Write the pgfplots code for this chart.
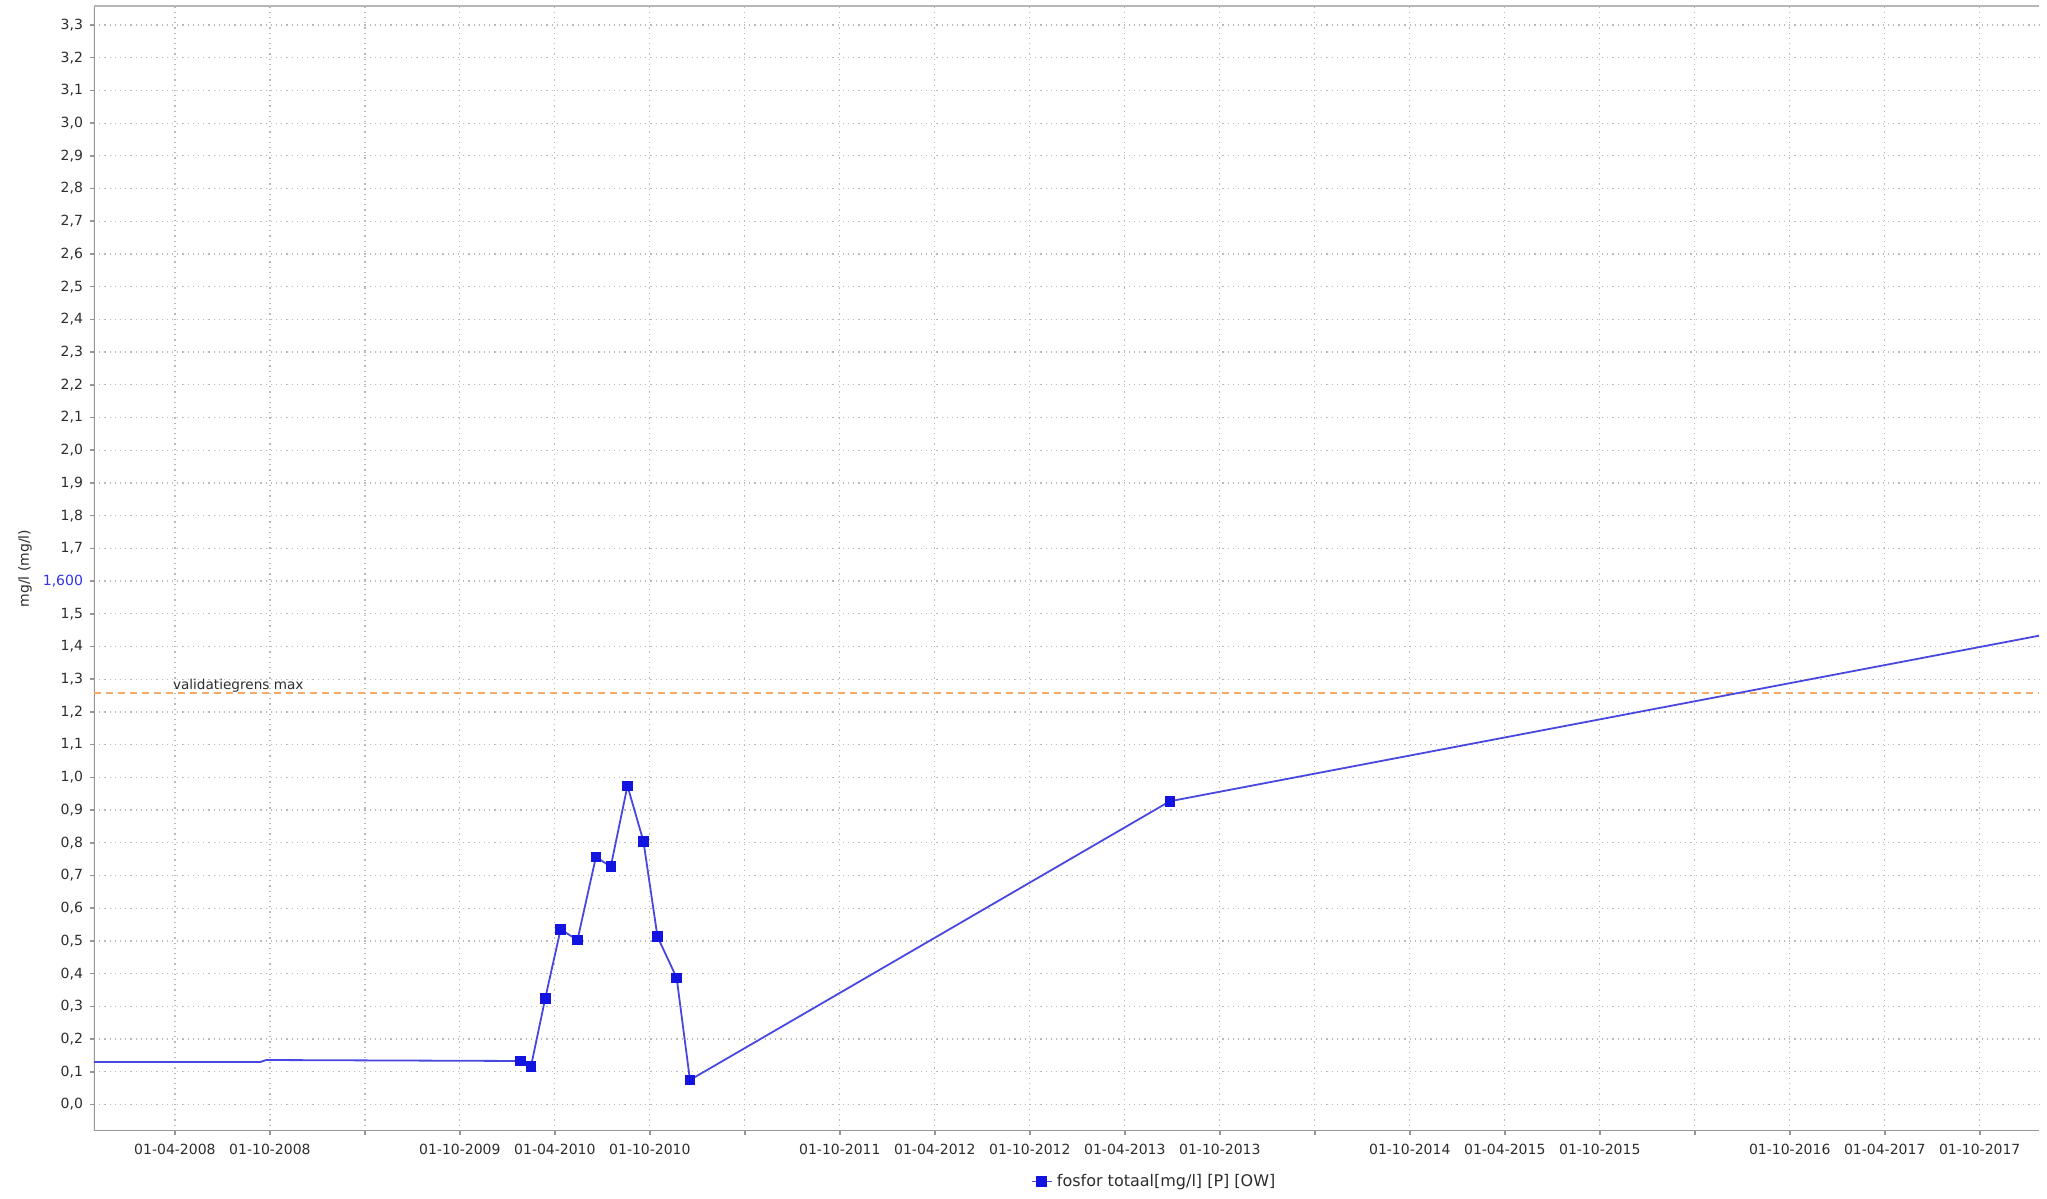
\documentclass[border=0pt]{standalone}
\usepackage{pgfplots}
\pgfplotsset{compat=1.18}
\usepackage{fontspec}
\setmainfont{DejaVu Sans}
\definecolor{serline}{RGB}{72,72,225}
\definecolor{sermark}{RGB}{20,20,225}
\definecolor{limitc}{RGB}{245,170,105}
\definecolor{ticktxt}{RGB}{45,45,45}
\definecolor{framec}{RGB}{150,150,150}
\definecolor{gridc}{RGB}{185,185,185}
\definecolor{bluelab}{RGB}{50,50,230}
\begin{document}
\begin{tikzpicture}
\path (-47pt,-34pt) rectangle (976.5pt,565.5pt);
\begin{axis}[
  at={(0pt,0pt)}, anchor=south west,
  scale only axis, width=972.5pt, height=562.5pt,
  xmin=2007.824, xmax=2018.062,
  ymin=-0.081, ymax=3.358,
  axis line style={draw=none},
  xtick pos=bottom, ytick pos=left,
  xtick={2008.25,2008.75,2009.25,2009.75,2010.25,2010.75,2011.25,2011.75,2012.25,2012.75,2013.25,2013.75,2014.25,2014.75,2015.25,2015.75,2016.25,2016.75,2017.25,2017.75},
  xticklabels={01-04-2008,01-10-2008,{},01-10-2009,01-04-2010,01-10-2010,{},01-10-2011,01-04-2012,01-10-2012,01-04-2013,01-10-2013,{},01-10-2014,01-04-2015,01-10-2015,{},01-10-2016,01-04-2017,01-10-2017},
  ytick={0,0.1,0.2,0.3,0.4,0.5,0.6,0.7,0.8,0.9,1.0,1.1,1.2,1.3,1.4,1.5,1.6,1.7,1.8,1.9,2.0,2.1,2.2,2.3,2.4,2.5,2.6,2.7,2.8,2.9,3.0,3.1,3.2,3.3},
  yticklabels={{0,0},{0,1},{0,2},{0,3},{0,4},{0,5},{0,6},{0,7},{0,8},{0,9},{1,0},{1,1},{1,2},{1,3},{1,4},{1,5},{\color{bluelab}1,600},{1,7},{1,8},{1,9},{2,0},{2,1},{2,2},{2,3},{2,4},{2,5},{2,6},{2,7},{2,8},{2,9},{3,0},{3,1},{3,2},{3,3}},
  tick align=outside,
  major tick length=2pt,
  tick style={framec, line width=0.8pt},
  every tick label/.append style={font=\fontsize{7}{8}\selectfont, text=ticktxt},
  xticklabel style={yshift=-1pt},
  grid=major,
  major grid style={gridc, line width=0.6pt, dash pattern=on 0.6pt off 2pt},
  ylabel={mg/l (mg/l)},
  every axis y label/.style={at={(axis description cs:-0.0355,0.5)}, rotate=90, anchor=center, font=\fontsize{7}{8}\selectfont, text=ticktxt},
  legend style={at={(axis description cs:0.5455,-0.0449)}, anchor=center, draw=none, fill=none, font=\fontsize{8}{9}\selectfont, text=ticktxt, inner sep=1pt},
  legend image code/.code={\draw[mark repeat=2,mark phase=2,#1] plot coordinates {(0cm,0cm) (0.18cm,0cm) (0.36cm,0cm)};},
  clip=true,
]
\draw[framec, line width=1pt] (rel axis cs:0,1) -- (rel axis cs:0,0) -- (rel axis cs:1,0);
\draw[framec!70, line width=1pt] (rel axis cs:0,1) -- (rel axis cs:1,1);
\addplot[limitc, line width=1pt, dash pattern=on 3.5pt off 2.5pt, forget plot] coordinates {(2007.824,1.258) (2018.062,1.258)};
\node[anchor=south west, inner sep=0pt, font=\fontsize{6.8}{8}\selectfont, text=ticktxt, yshift=0.3pt] at (axis cs:2008.238,1.258) {validatiegrens max};
\addplot[serline, line width=0.9pt, forget plot] coordinates {
(2007.824,0.130) (2008.700,0.130) (2008.730,0.136)
(2010.068,0.133) (2010.124,0.116) (2010.199,0.324) (2010.280,0.535)
(2010.369,0.503) (2010.466,0.757) (2010.544,0.727) (2010.632,0.974)
(2010.716,0.805) (2010.790,0.513) (2010.891,0.387) (2010.961,0.075)
(2013.487,0.927) (2018.062,1.433)};
\addplot[only marks, mark=square*, mark size=2.4pt, mark options={fill=sermark, draw=sermark}, forget plot] coordinates {
(2010.068,0.133) (2010.124,0.116) (2010.199,0.324) (2010.280,0.535)
(2010.369,0.503) (2010.466,0.757) (2010.544,0.727) (2010.632,0.974)
(2010.716,0.805) (2010.790,0.513) (2010.891,0.387) (2010.961,0.075)
(2013.487,0.927)};
\addlegendimage{serline, line width=0.9pt, mark=square*, mark size=2.2pt, mark options={fill=sermark, draw=sermark}}
\addlegendentry{fosfor totaal[mg/l] [P] [OW]}
\end{axis}
\end{tikzpicture}
\end{document}
